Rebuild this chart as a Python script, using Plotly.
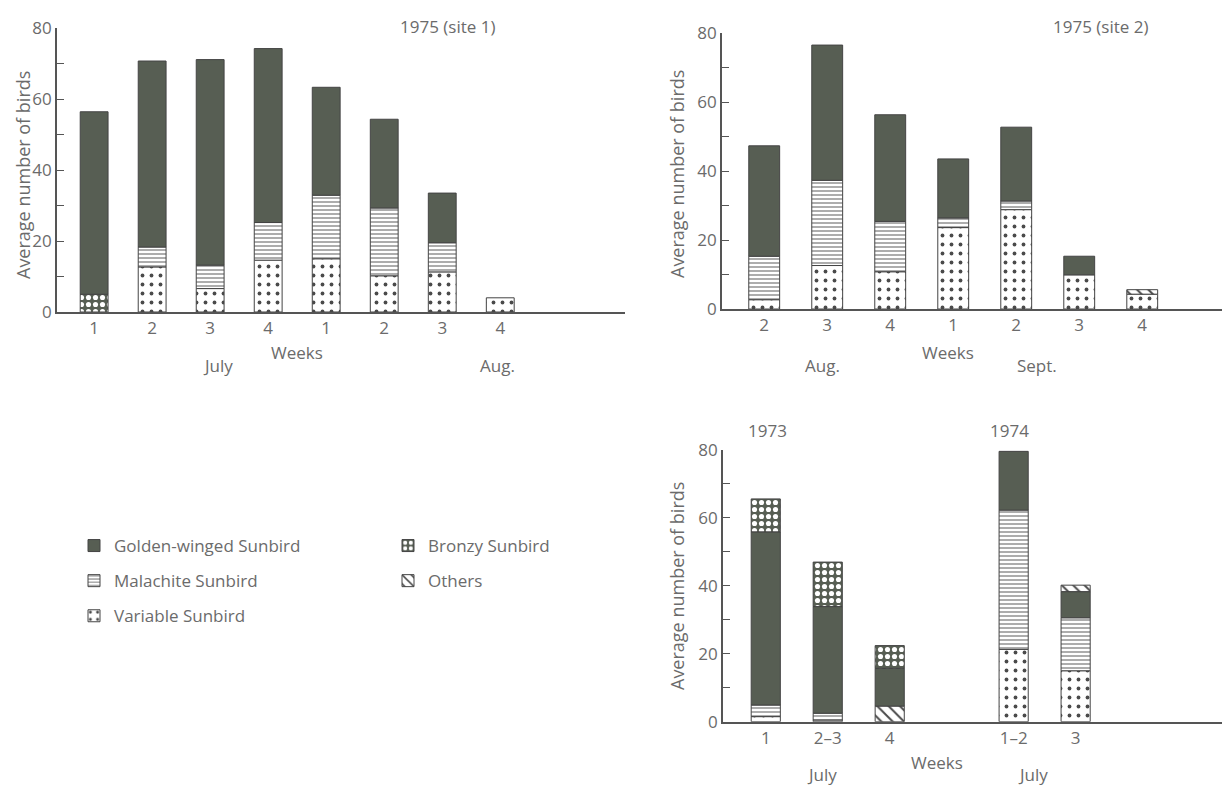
import numpy as np
import plotly.graph_objects as go

W, H = 1230, 785
OFF = 8  # page body margin in the browser

# ---------------- data ----------------
species = ["Golden-winged Sunbird", "Malachite Sunbird", "Variable Sunbird",
           "Bronzy Sunbird", "Others"]

# Panel A: 1975 (site 1)
weeks_a = ["1", "2", "3", "4", "1", "2", "3", "4"]
a_bronzy = [5.0, 0, 0, 0, 0, 0, 0, 0]
a_variable = [0, 12.7, 6.6, 14.6, 15.0, 10.2, 11.3, 4.0]
a_malachite = [0, 5.6, 6.6, 10.6, 17.9, 19.1, 8.2, 0]
a_golden = [51.4, 52.4, 57.9, 49.0, 30.4, 25.0, 14.0, 0]

# Panel B: 1975 (site 2)
weeks_b = ["2", "3", "4", "1", "2", "3", "4"]
b_variable = [2.7, 12.6, 10.8, 23.6, 28.8, 9.9, 4.3]
b_malachite = [12.6, 24.7, 14.6, 2.8, 2.5, 0, 0]
b_golden = [32.0, 39.2, 30.9, 17.1, 21.4, 5.4, 0]
b_others = [0, 0, 0, 0, 0, 0, 1.3]

# Panel C: 1973 and 1974
weeks_c73 = ["1", "2\u20133", "4"]
weeks_c74 = ["1\u20132", "3"]
c_others_low = [0, 0, 4.6, 0, 0]
c_variable = [1.5, 0.5, 0, 21.3, 15.0]
c_malachite = [3.4, 2.0, 0, 41.0, 15.6]
c_golden = [51.0, 31.4, 11.1, 17.3, 7.7]
c_bronzy = [9.7, 13.1, 6.7, 0, 0]
c_others_top = [0, 0, 0, 0, 1.9]

# ---------------- styles ----------------
TXT = "#6b6b6b"
AX = "#555555"
GOLD = "#575e53"
FONT = "Open Sans"

styles = {
    "Golden-winged Sunbird": dict(color=GOLD),
    "Malachite Sunbird": dict(color="white",
                              pattern=dict(shape="-", size=4, solidity=0.35,
                                           fgcolor="#8a8a8a", bgcolor="white",
                                           fillmode="replace")),
    "Variable Sunbird": dict(color="white",
                             pattern=dict(shape=".", size=9, solidity=0.14,
                                          fgcolor="#4a4a4a", bgcolor="white",
                                          fillmode="replace")),
    "Bronzy Sunbird": dict(color=GOLD,
                           pattern=dict(shape=".", size=7, solidity=0.42,
                                        fgcolor="white", bgcolor=GOLD,
                                        fillmode="replace")),
    "Others": dict(color="white",
                   pattern=dict(shape="\\", size=8, solidity=0.25,
                                fgcolor="#4a4a4a", bgcolor="white",
                                fillmode="replace")),
}

fig = go.Figure()

# legend-only entries
for i, sp in enumerate(species):
    lg = "legend" if i < 3 else "legend2"
    fig.add_trace(go.Bar(x=[None], y=[None], name=sp, legend=lg,
                         legendgroup=sp, showlegend=True, xaxis="x", yaxis="y",
                         marker=dict(line=dict(color="#444", width=1), **styles[sp])))


def add_stack(xpos, layers, xa, ya, width):
    base = np.zeros(len(xpos))
    for sp, vals in layers:
        v = np.array(vals, dtype=float)
        mask = v > 0
        fig.add_trace(go.Bar(
            x=np.array(xpos)[mask], y=v[mask], base=base[mask],
            width=width, name=sp, legendgroup=sp, showlegend=False,
            xaxis=xa, yaxis=ya, hoverinfo="skip",
            marker=dict(line=dict(color="#444", width=1), **styles[sp])))
        base = base + v


xa_pos = list(range(len(weeks_a)))
add_stack(xa_pos, [("Bronzy Sunbird", a_bronzy), ("Variable Sunbird", a_variable),
                   ("Malachite Sunbird", a_malachite),
                   ("Golden-winged Sunbird", a_golden)], "x", "y", 0.48)

xb_pos = list(range(len(weeks_b)))
add_stack(xb_pos, [("Variable Sunbird", b_variable), ("Malachite Sunbird", b_malachite),
                   ("Golden-winged Sunbird", b_golden), ("Others", b_others)],
          "x2", "y2", 0.49)

xc_pos = list(range(len(weeks_c73))) + [len(weeks_c73) + 1 + i for i in range(len(weeks_c74))]
add_stack(xc_pos, [("Others", c_others_low), ("Variable Sunbird", c_variable),
                   ("Malachite Sunbird", c_malachite),
                   ("Golden-winged Sunbird", c_golden), ("Bronzy Sunbird", c_bronzy),
                   ("Others", c_others_top)], "x3", "y3", 0.47)


def px(x):
    return (x - OFF) / W


def py(y):
    return 1 - (y - OFF) / H


yt_vals = list(range(0, 81, 10))
yt_text = [str(v) if v % 20 == 0 else "" for v in yt_vals]

tickfont = dict(family=FONT, size=17, color=TXT)


def xaxis(domain, rng, ticktext, tickvals, anchor):
    return dict(domain=domain, range=rng, anchor=anchor, tickvals=tickvals,
                ticktext=ticktext, showline=True, linecolor=AX, linewidth=1.6,
                showgrid=False, zeroline=False, ticks="", tickfont=tickfont,
                ticklabelstandoff=0, automargin=False)


def yaxis(domain, anchor):
    return dict(domain=domain, range=[0, 80], anchor=anchor, tickvals=yt_vals,
                ticktext=yt_text, showline=True, linecolor=AX, linewidth=1.6,
                showgrid=False, zeroline=False, ticks="inside", ticklen=7,
                tickcolor=AX, tickwidth=1.4, tickfont=tickfont, automargin=False)


fig.update_layout(
    width=W, height=H, autosize=False,
    margin=dict(l=0, r=0, t=0, b=0, pad=0, autoexpand=False),
    plot_bgcolor="white", paper_bgcolor="white", barmode="overlay",
    font=dict(family=FONT, color=TXT),
    xaxis=xaxis([px(57), px(625)], [-0.64, 9.15], weeks_a, xa_pos, "y"),
    yaxis=yaxis([py(312), py(28)], "x"),
    xaxis2=xaxis([px(722), 1.0], [-0.67, 7.52], weeks_b, xb_pos, "y2"),
    yaxis2=yaxis([py(309), py(33)], "x2"),
    xaxis3=xaxis([px(723), 1.0], [-0.69, 7.62], weeks_c73 + weeks_c74, xc_pos, "y3"),
    yaxis3=yaxis([py(721.7), py(450)], "x3"),
    legend=dict(x=px(74), y=py(528), xanchor="left", yanchor="top",
                font=dict(family=FONT, size=17, color=TXT),
                traceorder="grouped", tracegroupgap=10, bgcolor="rgba(0,0,0,0)",
                itemwidth=30),
    legend2=dict(x=px(388), y=py(528), xanchor="left", yanchor="top",
                 font=dict(family=FONT, size=17, color=TXT),
                 traceorder="grouped", tracegroupgap=10, bgcolor="rgba(0,0,0,0)",
                 itemwidth=30),
)

ann = [
    ("1975 (site 1)", 447, 27, 17, 0),
    ("1975 (site 2)", 1100, 27, 17, 0),
    ("1973", 767, 430, 17, 0),
    ("1974", 1010, 430, 17, 0),
    ("Weeks", 297, 352, 17, 0),
    ("July", 218, 365, 17, 0),
    ("Aug.", 497, 365, 17, 0),
    ("Weeks", 948, 352, 17, 0),
    ("Aug.", 822, 365, 17, 0),
    ("Sept.", 1037, 365, 17, 0),
    ("Weeks", 937, 762, 17, 0),
    ("July", 822, 774, 17, 0),
    ("July", 1033, 774, 17, 0),
    ("Average number of birds", 23, 175, 18, -90),
    ("Average number of birds", 677, 174, 18, -90),
    ("Average number of birds", 677, 586, 18, -90),
]
for t, x, y, s, a in ann:
    fig.add_annotation(text=t, x=px(x), y=py(y), xref="paper", yref="paper",
                       showarrow=False, textangle=a, xanchor="center", yanchor="middle",
                       font=dict(family=FONT, size=s, color=TXT))

fig.write_html("out.html", config={"displayModeBar": False})
